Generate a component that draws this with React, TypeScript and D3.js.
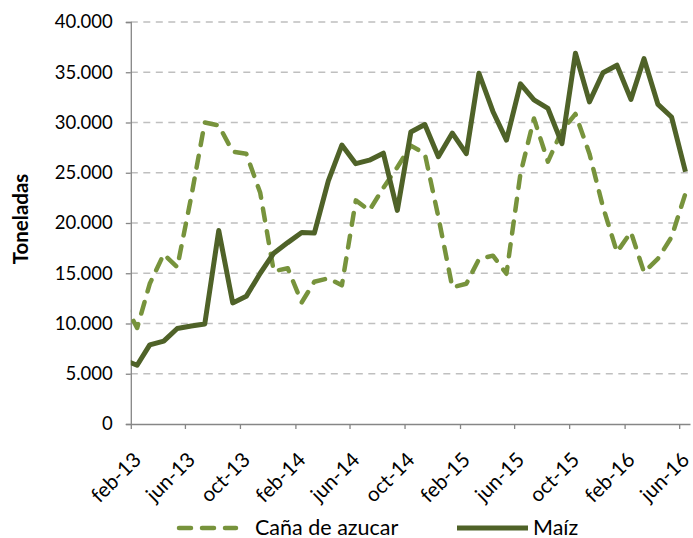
import React, { useEffect, useRef } from 'react';
import * as d3 from 'd3';

// months from jan-13 to jun-16 (jan-13 sits left of the axis start and gets clipped)
const months: string[] = [
  '2013-01', '2013-02', '2013-03', '2013-04', '2013-05', '2013-06', '2013-07', '2013-08', '2013-09', '2013-10', '2013-11', '2013-12',
  '2014-01', '2014-02', '2014-03', '2014-04', '2014-05', '2014-06', '2014-07', '2014-08', '2014-09', '2014-10', '2014-11', '2014-12',
  '2015-01', '2015-02', '2015-03', '2015-04', '2015-05', '2015-06', '2015-07', '2015-08', '2015-09', '2015-10', '2015-11', '2015-12',
  '2016-01', '2016-02', '2016-03', '2016-04', '2016-05', '2016-06'
];

const canaValues: number[] = [
  12300, 9550, 13950, 16900, 15600, 22600, 30000, 29700, 27100, 26900, 23000, 15200,
  15500, 12100, 14150, 14500, 13800, 22250, 21250, 23500, 25550, 27700, 26900, 20600,
  13600, 13950, 16400, 16750, 14950, 24900, 30400, 26100, 29200, 30850, 26900, 21600,
  17100, 19100, 15100, 16450, 18600, 22950
];

const maizValues: number[] = [
  6400, 5850, 7870, 8250, 9500, 9750, 9950, 19250, 12050, 12700, 15000, 17000,
  18050, 19050, 19000, 24200, 27750, 25900, 26250, 26950, 21250, 29050, 29800, 26600,
  28950, 26900, 34900, 31100, 28250, 33850, 32250, 31400, 27900, 36900, 32050, 34950,
  35700, 32300, 36350, 31800, 30550, 25100
];

const tickMonths: string[] = [
  '2013-02', '2013-06', '2013-10', '2014-02', '2014-06', '2014-10',
  '2015-02', '2015-06', '2015-10', '2016-02', '2016-06'
];
const tickLabels: string[] = [
  'feb-13', 'jun-13', 'oct-13', 'feb-14', 'jun-14', 'oct-14',
  'feb-15', 'jun-15', 'oct-15', 'feb-16', 'jun-16'
];

const yTicks: number[] = [0, 5000, 10000, 15000, 20000, 25000, 30000, 35000, 40000];

const seriesNames = ['Caña de azucar', 'Maíz'];

const FONT = 'Lato, "Open Sans", sans-serif';
const CANA_COLOR = '#77933C';
const MAIZ_COLOR = '#4F6228';
const AXIS_COLOR = '#868686';
const GRID_COLOR = '#BFBFBF';
const TEXT_COLOR = '#000';

const parseMonth = d3.timeParse('%Y-%m');

export default function App() {
  const svgRef = useRef<SVGSVGElement>(null);

  useEffect(() => {
    if (!svgRef.current) return;
    const width = 693;
    const height = 538;
    const left = 130.8;
    const right = 690;
    const top = 22;
    const bottom = 424;

    const svg = d3.select(svgRef.current);
    svg.selectAll('*').remove();
    svg.attr('width', width).attr('height', height);

    // mid-month dates for the points
    const midMonth = (m: string) => d3.timeDay.offset(parseMonth(m) as Date, 14);

    const x = d3.scaleTime()
      .domain([parseMonth('2013-02') as Date, d3.timeDay.offset(parseMonth('2016-06') as Date, 24)])
      .range([left, right]);

    const y = d3.scaleLinear()
      .domain([0, 40000])
      .range([bottom, top]);

    svg.append('defs')
      .append('clipPath')
      .attr('id', 'plot-clip')
      .append('rect')
      .attr('x', left)
      .attr('y', 0)
      .attr('width', right - left)
      .attr('height', height);

    // grid lines
    svg.append('g')
      .selectAll('line')
      .data(yTicks.filter(d => d > 0))
      .join('line')
      .attr('x1', left)
      .attr('x2', right)
      .attr('y1', d => y(d))
      .attr('y2', d => y(d))
      .attr('stroke', GRID_COLOR)
      .attr('stroke-width', 1.3)
      .attr('stroke-dasharray', '7,5.5');

    // y axis
    const yAxis = d3.axisLeft(y)
      .tickValues(yTicks)
      .tickSize(5)
      .tickPadding(13)
      .tickFormat(d => (d as number) === 0 ? '0' : d3.format(',')(d as number).replace(/,/g, '.'));

    const yg = svg.append('g')
      .attr('transform', `translate(${left},0)`)
      .call(yAxis);
    yg.select('.domain').attr('stroke', AXIS_COLOR).attr('stroke-width', 1.3);
    yg.selectAll('.tick line').attr('stroke', AXIS_COLOR).attr('stroke-width', 1.3);
    yg.selectAll('.tick text')
      .attr('fill', TEXT_COLOR)
      .style('font-family', FONT)
      .style('font-size', '18.5px');

    // x axis
    const xTickDates = tickMonths.map(m => parseMonth(m) as Date);
    const xAxis = d3.axisBottom(x)
      .tickValues(xTickDates)
      .tickSize(5)
      .tickSizeOuter(0)
      .tickFormat((_, i) => tickLabels[i]);

    const xg = svg.append('g')
      .attr('transform', `translate(0,${bottom})`)
      .call(xAxis);
    xg.select('.domain').attr('stroke', AXIS_COLOR).attr('stroke-width', 1.3);
    xg.selectAll('.tick line').attr('stroke', AXIS_COLOR).attr('stroke-width', 1.3);
    xg.selectAll('.tick text')
      .attr('fill', TEXT_COLOR)
      .attr('x', 0)
      .attr('y', 0)
      .attr('dy', 0)
      .attr('text-anchor', 'end')
      .attr('transform', 'translate(11,37) rotate(-45)')
      .style('font-family', FONT)
      .style('font-size', '20.5px');

    // y axis title
    svg.append('text')
      .attr('transform', `translate(28,${(top + bottom) / 2 - 4}) rotate(-90)`)
      .attr('text-anchor', 'middle')
      .style('font-family', FONT)
      .style('font-size', '20.5px')
      .style('font-weight', 'bold')
      .attr('fill', TEXT_COLOR)
      .text('Toneladas');

    // series
    const line = d3.line<number>()
      .x((_, i) => x(midMonth(months[i])))
      .y(d => y(d));

    const plot = svg.append('g').attr('clip-path', 'url(#plot-clip)');

    plot.append('path')
      .datum(canaValues)
      .attr('fill', 'none')
      .attr('stroke', CANA_COLOR)
      .attr('stroke-width', 4.5)
      .attr('stroke-dasharray', '12,11')
      .attr('stroke-linecap', 'round')
      .attr('stroke-linejoin', 'round')
      .attr('d', line);

    plot.append('path')
      .datum(maizValues)
      .attr('fill', 'none')
      .attr('stroke', MAIZ_COLOR)
      .attr('stroke-width', 5)
      .attr('stroke-linejoin', 'round')
      .attr('d', line);

    // legend
    const legendY = 528;
    const legend = svg.append('g');
    legend.append('line')
      .attr('x1', 179).attr('x2', 236)
      .attr('y1', legendY).attr('y2', legendY)
      .attr('stroke', CANA_COLOR)
      .attr('stroke-width', 4.5)
      .attr('stroke-dasharray', '12,11')
      .attr('stroke-linecap', 'round');
    legend.append('text')
      .attr('x', 255)
      .attr('y', legendY + 6.5)
      .style('font-family', FONT)
      .style('font-size', '21.5px')
      .attr('fill', TEXT_COLOR)
      .text(seriesNames[0]);
    legend.append('line')
      .attr('x1', 457).attr('x2', 528)
      .attr('y1', legendY).attr('y2', legendY)
      .attr('stroke', MAIZ_COLOR)
      .attr('stroke-width', 5);
    legend.append('text')
      .attr('x', 533)
      .attr('y', legendY + 6.5)
      .style('font-family', FONT)
      .style('font-size', '21.5px')
      .attr('fill', TEXT_COLOR)
      .text(seriesNames[1]);
  }, []);

  return (
    <svg
      ref={svgRef}
      style={{ position: 'absolute', left: 0, top: 0, background: '#fff' }}
    />
  );
}
